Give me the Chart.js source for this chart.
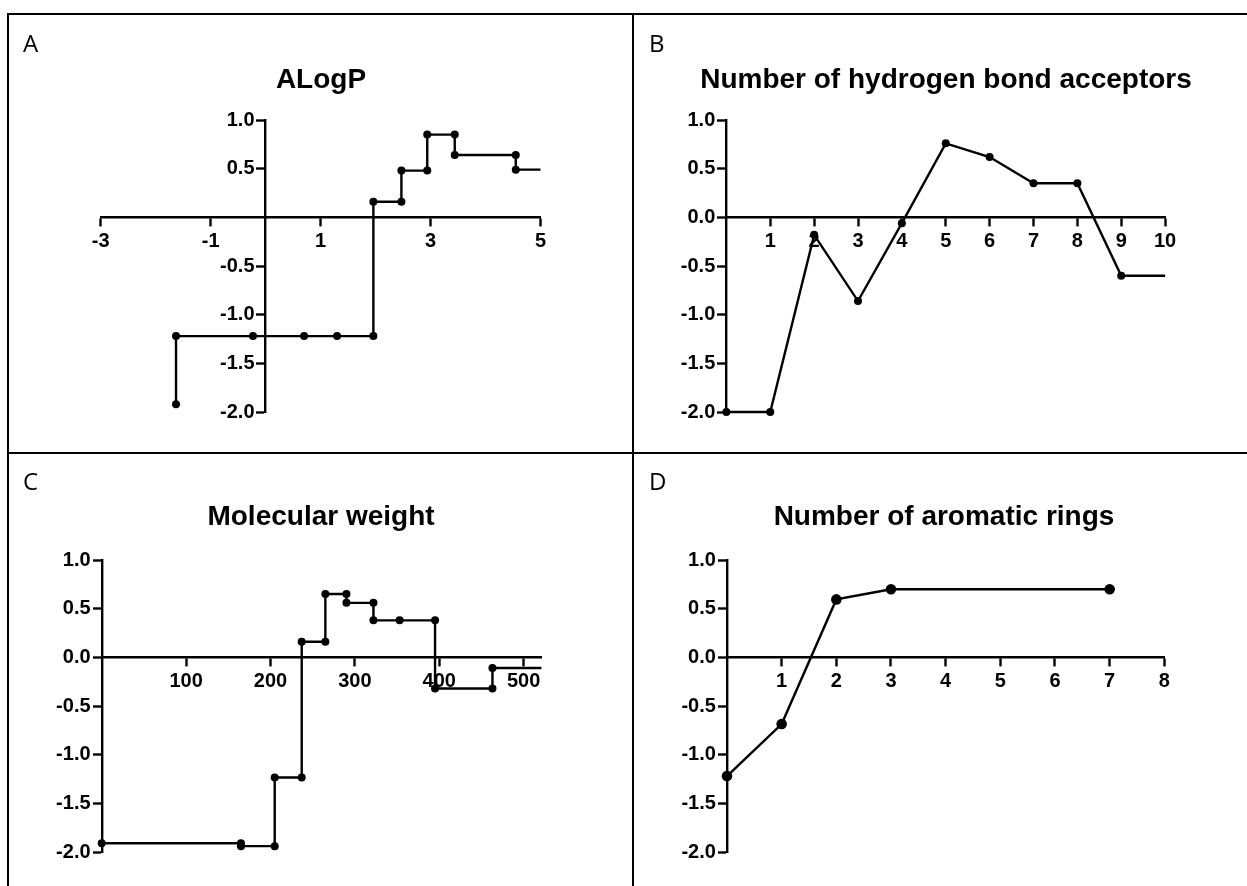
<!DOCTYPE html>
<html lang="en">
<head>
<meta charset="UTF-8">
<title>Descriptor profiles</title>
<script src="https://cdn.jsdelivr.net/npm/chart.js"></script>
<style>
  body { margin: 0; background: #fff; }
  #page { position: relative; width: 1247px; height: 886px; overflow: hidden; background: #fff; }
  canvas { position: absolute; }
  .rule { position: absolute; background: #000; }
  .tag { position: absolute; font-family: "Open Sans", sans-serif; font-size: 24px; line-height: 1; color: #000; }
  /* panel titles run wider than the plot area, so they are laid out here rather than squeezed by the title plugin */
  .head { position: absolute; width: 600px; text-align: center; font-family: "Liberation Sans", Arial, sans-serif;
          font-weight: bold; font-size: 28px; line-height: 1; color: #000; white-space: nowrap; }
</style>
</head>
<body>
<div id="page">
  <canvas id="chartA" width="632" height="453" style="left:0;top:0"></canvas>
  <canvas id="chartB" width="615" height="453" style="left:632px;top:0"></canvas>
  <canvas id="chartC" width="632" height="433" style="left:0;top:453px"></canvas>
  <canvas id="chartD" width="615" height="433" style="left:632px;top:453px"></canvas>

  <div class="rule" style="left:7px;top:13px;width:1240px;height:2px"></div>
  <div class="rule" style="left:7px;top:13px;width:2px;height:873px"></div>
  <div class="rule" style="left:632px;top:13px;width:2px;height:873px"></div>
  <div class="rule" style="left:7px;top:452px;width:1240px;height:2px"></div>

  <span class="tag" style="left:23px;top:31px">A</span>
  <span class="tag" style="left:649px;top:31px">B</span>
  <span class="tag" style="left:23px;top:469px">C</span>
  <span class="tag" style="left:649px;top:469px">D</span>

  <div class="head" style="left:21px;top:65px">ALogP</div>
  <div class="head" style="left:646px;top:65px">Number of hydrogen bond acceptors</div>
  <div class="head" style="left:21px;top:502px">Molecular weight</div>
  <div class="head" style="left:644px;top:502px">Number of aromatic rings</div>
</div>

<script>
// A - ALogP (step profile)
const alogpX = [-1.63, -1.63, -0.23, 0.70, 1.30, 1.96, 1.96, 2.47, 2.47, 2.94, 2.94, 3.44, 3.44, 4.55, 4.55, 5.0];
const alogpY = [-1.92, -1.22, -1.22, -1.22, -1.22, -1.22, 0.16, 0.16, 0.48, 0.48, 0.85, 0.85, 0.64, 0.64, 0.49, 0.49];
const alogpXTicks = [-3, -1, 1, 3, 5];
const alogpYTicks = [1.0, 0.5, -0.5, -1.0, -1.5, -2.0];

// B - number of hydrogen bond acceptors
const hbaX = [0, 1, 2, 3, 4, 5, 6, 7, 8, 9, 10];
const hbaY = [-2.0, -2.0, -0.18, -0.86, -0.06, 0.76, 0.62, 0.35, 0.35, -0.60, -0.60];
const hbaXTicks = [1, 2, 3, 4, 5, 6, 7, 8, 9, 10];

// C - molecular weight (step profile)
const mwX = [0, 165, 165, 205, 205, 237, 237, 265, 265, 290, 290, 322, 322, 353, 395, 395, 463, 463, 521];
const mwY = [-1.91, -1.91, -1.94, -1.94, -1.235, -1.235, 0.16, 0.16, 0.65, 0.65, 0.56, 0.56, 0.38, 0.38, 0.38, -0.32, -0.32, -0.11, -0.11];
const mwXTicks = [100, 200, 300, 400, 500];

// D - number of aromatic rings
const ringX = [0, 1, 2, 3, 7];
const ringY = [-1.22, -0.685, 0.595, 0.70, 0.70];
const ringXTicks = [1, 2, 3, 4, 5, 6, 7, 8];

const fullYTicks = [1.0, 0.5, 0.0, -0.5, -1.0, -1.5, -2.0];

Chart.defaults.font.family = '"Liberation Sans", Arial, sans-serif';
Chart.defaults.color = '#000';

const tickFont = { family: '"Liberation Sans", Arial, sans-serif', size: 20, weight: 'bold' };
const axisGrid = { display: true, drawOnChartArea: false, drawTicks: true, tickLength: 8, tickWidth: 2.4, tickColor: '#000' };
const axisBorder = { display: true, color: '#000', width: 2.4 };

function makeChart(id, c) {
  const last = c.x.length - 1;
  const radii = c.x.map((v, i) => (c.bareEnd && i === last) ? 0 : c.r);
  return new Chart(document.getElementById(id), {
    type: 'scatter',
    data: {
      datasets: [{
        data: c.x.map((v, i) => ({ x: v, y: c.y[i] })),
        showLine: true,
        borderColor: '#000',
        borderWidth: 2.4,
        backgroundColor: '#000',
        pointRadius: radii,
        pointHoverRadius: radii,
        pointBorderWidth: 0,
        clip: false
      }]
    },
    options: {
      responsive: false,
      animation: false,
      events: [],
      layout: { padding: { left: c.pad[0], right: c.pad[1], top: c.pad[2], bottom: c.pad[3] } },
      plugins: { legend: { display: false }, tooltip: { enabled: false } },
      scales: {
        x: {
          type: 'linear', min: c.xMin, max: c.xMax, position: { y: 0 },
          afterBuildTicks: s => { s.ticks = c.xTicks.map(v => ({ value: v })); },
          ticks: { font: tickFont, color: '#000', padding: 4, maxRotation: 0, autoSkip: false, callback: v => String(v) },
          grid: axisGrid, border: axisBorder
        },
        y: {
          type: 'linear', min: -2, max: 1, position: { x: c.yAt },
          afterBuildTicks: s => { s.ticks = c.yTicks.map(v => ({ value: v })); },
          // labels sit right-aligned on the axis line here, so pad them off the tick marks
          ticks: { font: tickFont, color: '#000', autoSkip: false, callback: v => v.toFixed(1) + '  ' },
          grid: axisGrid, border: axisBorder
        }
      }
    }
  });
}

makeChart('chartA', {
  x: alogpX, y: alogpY, xMin: -3, xMax: 5, yAt: 0, xTicks: alogpXTicks, yTicks: alogpYTicks,
  r: 4, bareEnd: true, pad: [100.7, 91.5, 120, 41]
});
makeChart('chartB', {
  x: hbaX, y: hbaY, xMin: 0, xMax: 10, yAt: 0, xTicks: hbaXTicks, yTicks: fullYTicks,
  r: 4, bareEnd: true, pad: [94.4, 81.9, 120, 41]
});
makeChart('chartC', {
  x: mwX, y: mwY, xMin: 0, xMax: 521, yAt: 0, xTicks: mwXTicks, yTicks: fullYTicks,
  r: 4, bareEnd: true, pad: [101.7, 90.6, 107, 34]
});
makeChart('chartD', {
  x: ringX, y: ringY, xMin: 0, xMax: 8, yAt: 0, xTicks: ringXTicks, yTicks: fullYTicks,
  r: 5.3, bareEnd: false, pad: [95, 82.7, 107, 34]
});
</script>
</body>
</html>
